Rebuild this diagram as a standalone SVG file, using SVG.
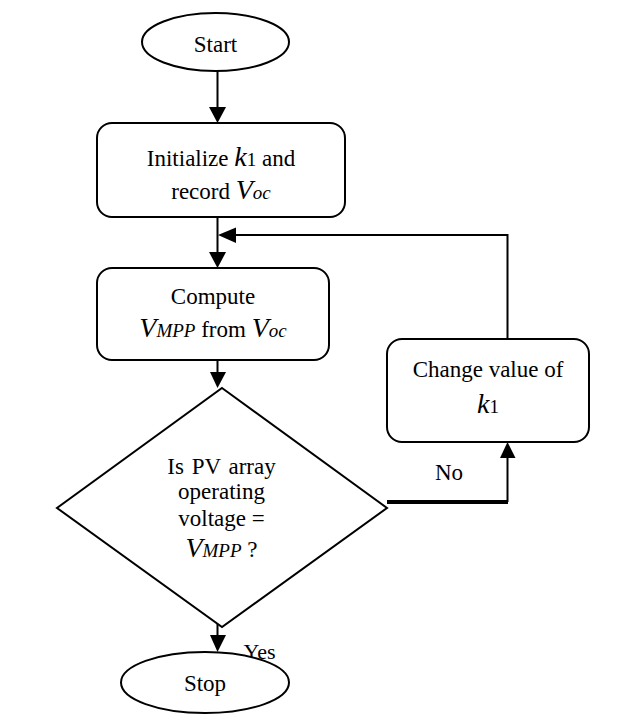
<svg xmlns="http://www.w3.org/2000/svg" width="619" height="720" viewBox="0 0 619 720">
<style>
.s{fill:#fff;stroke:#000;stroke-width:2}
.t{font-family:'Liberation Serif','DejaVu Serif','Times New Roman',serif;font-size:23px;fill:#000;text-anchor:middle}
.v{font-style:italic;font-size:28px}
.sub{font-style:italic;font-size:19px}
.n{font-size:19px}
.c{fill:none;stroke:#000;stroke-width:2}
.ah{fill:#000}
</style>
<rect width="619" height="720" fill="#fff"/>
<g id="connectors">
<line class="c" x1="217.5" y1="71" x2="217.5" y2="108"/>
<polygon class="ah" points="209,107 226,107 217.5,123"/>
<line class="c" x1="217.5" y1="217" x2="217.5" y2="253"/>
<polygon class="ah" points="209,252 226,252 217.5,268"/>
<polyline class="c" points="507.5,339 507.5,235 235,235"/>
<polygon class="ah" points="236,227.5 236,243 218,235"/>
<line class="c" x1="217.5" y1="360" x2="217.5" y2="373"/>
<polygon class="ah" points="210,372 226,372 217.5,388"/>
<line x1="387" y1="502" x2="508" y2="502" stroke="#000" stroke-width="4"/>
<line class="c" x1="507.5" y1="502" x2="507.5" y2="457"/>
<polygon class="ah" points="500,458 515.5,458 507.5,442"/>
<line class="c" x1="217.5" y1="620" x2="217.5" y2="637"/>
<polygon class="ah" points="210,635 226,635 217.5,652"/>
<text class="t" x="449" y="480">No</text>
<text class="t" x="259.5" y="659" style="font-size:22px">Yes</text>
</g>
<g id="start">
<ellipse class="s" cx="215.5" cy="42" rx="73.5" ry="29"/>
<text class="t" x="215.5" y="52">Start</text>
</g>
<g id="init">
<rect class="s" x="97" y="123" width="248" height="94" rx="15"/>
<text class="t" x="221" y="166">Initialize <tspan class="v">k</tspan><tspan class="n">1</tspan> and</text>
<text class="t" x="221" y="199">record <tspan class="v">V</tspan><tspan class="sub">oc</tspan></text>
</g>
<g id="compute">
<rect class="s" x="97" y="268" width="232" height="92" rx="15"/>
<text class="t" x="213" y="304">Compute</text>
<text class="t" x="213" y="337"><tspan class="v">V</tspan><tspan class="sub">MPP</tspan> from <tspan class="v">V</tspan><tspan class="sub">oc</tspan></text>
</g>
<g id="change">
<rect class="s" x="387" y="339" width="202" height="103" rx="15"/>
<text class="t" x="488" y="377">Change value of</text>
<text class="t" x="488" y="413"><tspan class="v">k</tspan><tspan class="n">1</tspan></text>
</g>
<g id="decision">
<polygon class="s" points="222,388 387,508 222,627 57,508"/>
<text class="t" x="221.5" y="474" word-spacing="2">Is PV array</text>
<text class="t" x="221.5" y="499">operating</text>
<text class="t" x="221.5" y="526">voltage =</text>
<text class="t" x="221.5" y="557"><tspan class="v">V</tspan><tspan class="sub">MPP</tspan> ?</text>
</g>
<g id="stop">
<ellipse class="s" cx="205" cy="682.5" rx="84" ry="30.5"/>
<text class="t" x="205" y="691">Stop</text>
</g>
</svg>
